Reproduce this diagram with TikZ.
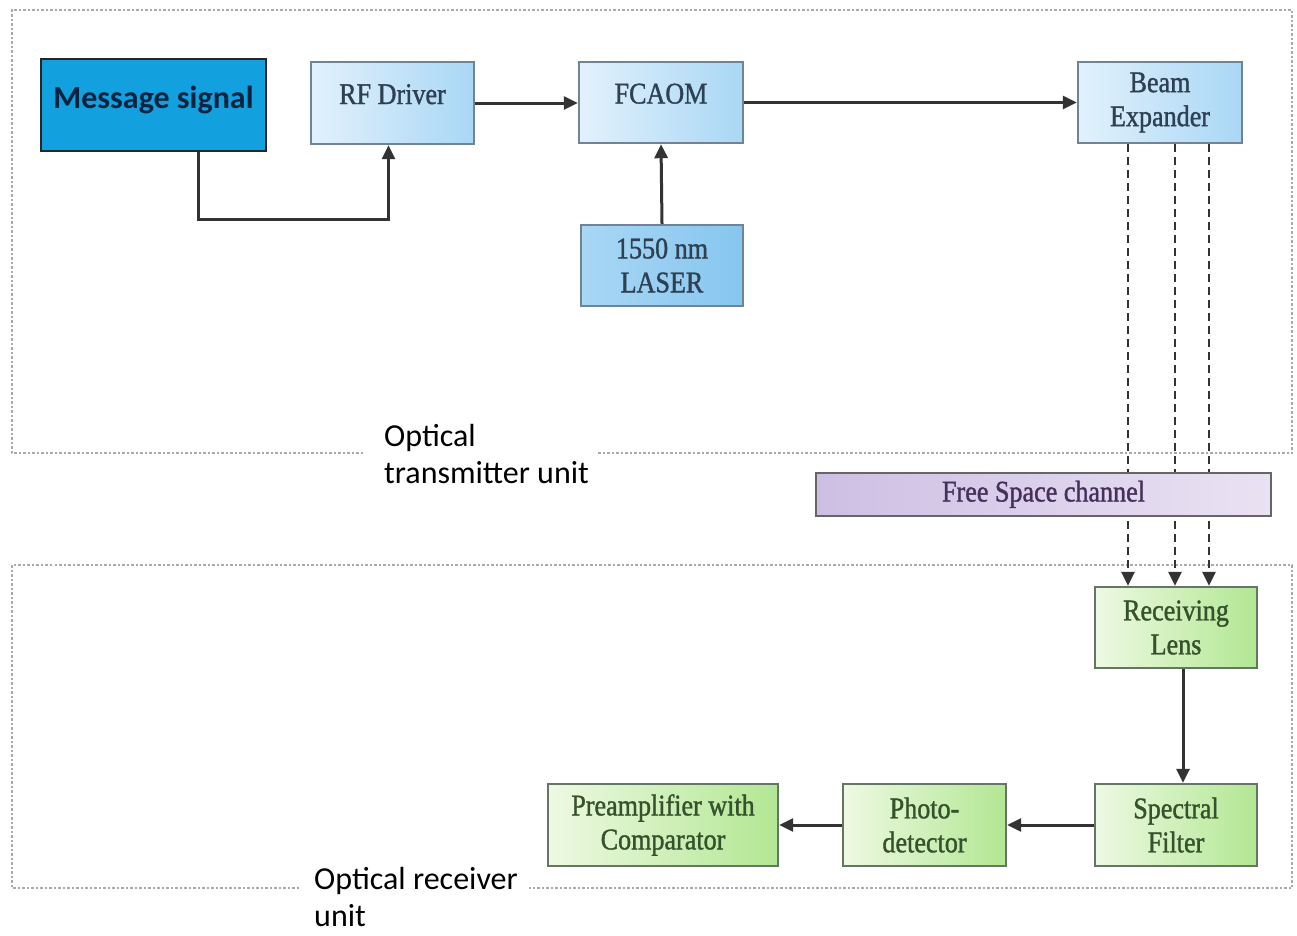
\documentclass[tikz,border=0pt]{standalone}
\usepackage{fontspec}
\setmainfont{Liberation Serif}
\newfontfamily\boxfont[FakeStretch=0.87,FakeBold=1.2]{Liberation Serif}
\newfontfamily\calfont{Carlito}
\usetikzlibrary{arrows.meta}

\definecolor{msgfill}{HTML}{12A0DE}
\definecolor{msgtext}{HTML}{0C2340}
\definecolor{bluelight}{HTML}{E2F1FC}
\definecolor{bluemid}{HTML}{A9D7F5}
\definecolor{bluedeep}{HTML}{86C6EF}
\definecolor{blueline}{HTML}{6F8496}
\definecolor{bluetext}{HTML}{2E4052}
\definecolor{greenlight}{HTML}{EEF9E2}
\definecolor{greendeep}{HTML}{B2E793}
\definecolor{greenline}{HTML}{667666}
\definecolor{greentext}{HTML}{35522C}
\definecolor{violetdeep}{HTML}{CDBFE3}
\definecolor{violetlight}{HTML}{EAE2F3}
\definecolor{violettext}{HTML}{45305C}
\definecolor{wire}{HTML}{333333}
\definecolor{frame}{HTML}{AAAAAA}

\begin{document}
\begin{tikzpicture}[x=1pt,y=-1pt,
  blk/.style={draw=blueline, line width=2.4pt, inner sep=0pt, align=center,
    text=bluetext, font=\boxfont\fontsize{30}{34}\selectfont},
  bluebox/.style={blk, left color=bluelight, right color=bluemid},
  deepbox/.style={blk, left color=bluemid, right color=bluedeep},
  greenbox/.style={blk, draw=greenline, text=greentext,
    left color=greenlight, right color=greendeep},
  oneline/.style={text height=20pt, text depth=18pt},
  conn/.style={draw=wire, line width=3pt,
    -{Triangle[length=14pt,width=13pt]}},
  beam/.style={draw=wire, line width=2.8pt, dash pattern=on 8pt off 5pt,
    -{Triangle[length=14pt,width=13pt]}},
  unitframe/.style={draw=frame, line width=1.6pt, dash pattern=on 2.5pt off 2pt},
  unitlabel/.style={anchor=north west, inner sep=0pt, align=left,
    font=\calfont\fontsize{32}{37}\selectfont, text=black}
]
\useasboundingbox (0,0) rectangle (1297,935);
\fill[white] (0,0) rectangle (1297,935);

% dotted outlines of the two units, open where their captions sit
\draw[unitframe] (363,453) -- (12,453) -- (12,10) -- (1292,10) -- (1292,453) -- (597,453);
\draw[unitframe] (299,888) -- (12,888) -- (12,565) -- (1292,565) -- (1292,888) -- (529,888);

\node[unitlabel] (txlabel) at (384,424) {Optical\\transmitter unit};
\node[unitlabel] (rxlabel) at (314,867) {Optical receiver\\unit};

% transmitter blocks
\node[draw=black!85, line width=2.2pt, fill=msgfill, text=msgtext,
      minimum width=225pt, minimum height=92pt, inner sep=0pt,
      text height=20pt, text depth=14pt,
      font=\calfont\bfseries\fontsize{32}{36}\selectfont]
  (msg) at (153.5,105) {Message signal};
\node[bluebox, oneline, minimum width=163pt, minimum height=82pt] (rf) at (392.5,103) {RF Driver};
\node[bluebox, oneline, minimum width=164pt, minimum height=81pt] (fcaom) at (661,102.5) {FCAOM};
\node[deepbox, minimum width=162pt, minimum height=81pt] (laser) at (662,265.5) {1550 nm\\LASER};
\node[bluebox, minimum width=164pt, minimum height=81pt] (expander) at (1160,102.5) {Beam\\Expander};

% receiver blocks
\node[greenbox, minimum width=162pt, minimum height=81pt] (lens) at (1176,627.5) {Receiving\\Lens};
\node[greenbox, minimum width=162pt, minimum height=82pt] (filter) at (1176,825) {Spectral\\Filter};
\node[greenbox, minimum width=163pt, minimum height=82pt] (detector) at (924.5,825) {Photo-\\detector};
\node[greenbox, minimum width=230pt, minimum height=82pt] (preamp) at (663,825) {Preamplifier with\\Comparator};

% signal path
\draw[conn] ([xshift=44.5pt]msg.south) -- ++(0,67) -| ([xshift=-4pt]rf.south);
\draw[conn] (rf.east) -- (rf.east -| fcaom.west);
\draw[conn] (fcaom.east) -- (expander.west);
\draw[conn] (laser.north) -- (fcaom.south);

% expanded beams crossing the channel
\draw[beam] ([xshift=-32pt]expander.south) -- ([xshift=-32pt]expander.south |- lens.north);
\draw[beam] ([xshift=15pt]expander.south) -- ([xshift=15pt]expander.south |- lens.north);
\draw[beam] ([xshift=49pt]expander.south) -- ([xshift=49pt]expander.south |- lens.north);

\node[blk, draw=gray!80!black, text=violettext, left color=violetdeep, right color=violetlight,
      minimum width=455pt, minimum height=43pt, text height=20pt, text depth=6pt]
  (channel) at (1043.5,494.5) {Free Space channel};

\draw[conn] ([xshift=7pt]lens.south) -- ([xshift=7pt]filter.north);
\draw[conn] (filter.west) -- (detector.east);
\draw[conn] (detector.west) -- (preamp.east);
\end{tikzpicture}
\end{document}
